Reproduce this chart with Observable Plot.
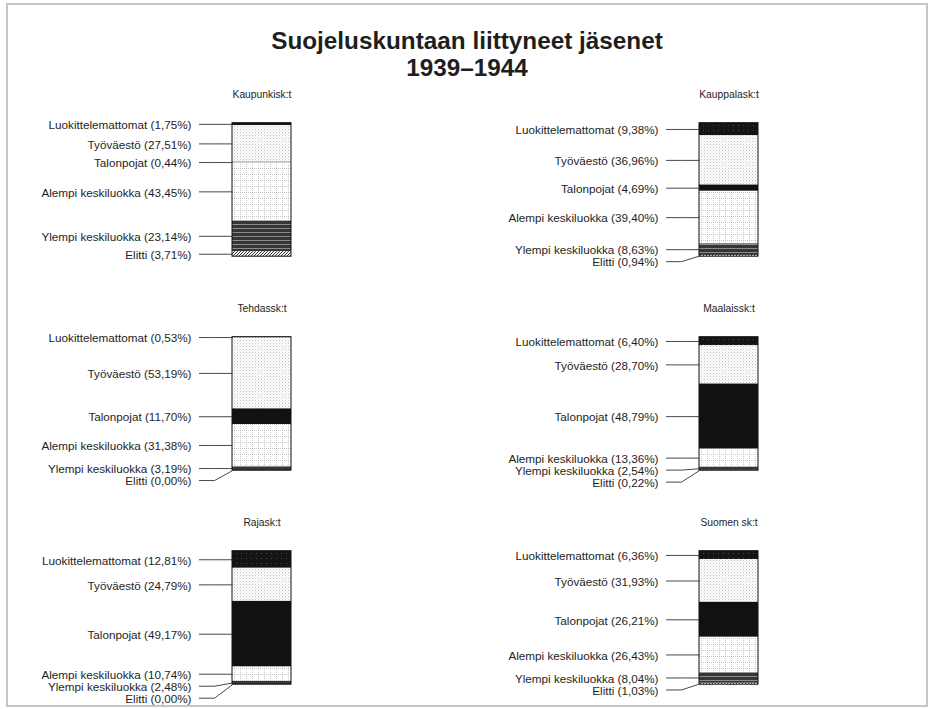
<!DOCTYPE html>
<html>
<head>
<meta charset="utf-8">
<script src="https://cdn.jsdelivr.net/npm/d3@7"></script>
<script src="https://cdn.jsdelivr.net/npm/@observablehq/plot@0.6"></script>
<style>
  html, body { margin: 0; padding: 0; background: #fff; overflow: hidden; }
  body { width: 934px; height: 709px; position: relative; font-family: "Liberation Sans", Arial, sans-serif; }
  #frame { position: absolute; left: 6px; top: 3px; width: 922px; height: 704px; border: 2px solid #c6c6c6; box-sizing: border-box; }
  #title { position: absolute; left: 0; top: 27px; width: 934px; text-align: center; font-weight: bold; font-size: 24.3px; line-height: 27.4px; color: #1e1e1e; }
  #chart { position: absolute; left: 0; top: 84px; }
  #defs { position: absolute; width: 0; height: 0; }
</style>
</head>
<body>
<div id="frame"></div>
<div id="title">Suojeluskuntaan liittyneet jäsenet<br>1939–1944</div>
<svg id="defs" width="0" height="0">
  <defs>
    <pattern id="p-luok" width="5" height="5" patternUnits="userSpaceOnUse">
      <rect width="5" height="5" fill="#141414"/>
      <rect x="1" y="1" width="1" height="1" fill="#444"/>
    </pattern>
    <pattern id="p-tyo" width="3" height="3" patternUnits="userSpaceOnUse">
      <rect width="3" height="3" fill="#fdfdfd"/>
      <rect x="0" y="0" width="1" height="1" fill="#c4c4c4"/>
      <rect x="1.5" y="1.5" width="1" height="1" fill="#dadada"/>
    </pattern>
    <pattern id="p-tal" width="4" height="4" patternUnits="userSpaceOnUse">
      <rect width="4" height="4" fill="#111"/>
    </pattern>
    <pattern id="p-alempi" width="6" height="6" patternUnits="userSpaceOnUse">
      <rect width="6" height="6" fill="#fff"/>
      <rect x="0" y="0" width="1" height="1" fill="#b8b8b8"/>
      <rect x="2" y="0" width="1" height="1" fill="#c8c8c8"/>
      <rect x="4" y="0" width="1" height="1" fill="#c8c8c8"/>
      <rect x="0" y="2" width="1" height="1" fill="#c8c8c8"/>
      <rect x="0" y="4" width="1" height="1" fill="#c8c8c8"/>
    </pattern>
    <pattern id="p-ylempi" width="4" height="4" patternUnits="userSpaceOnUse">
      <rect width="4" height="4" fill="#363636"/>
      <rect x="0" y="0" width="4" height="1" fill="#8c8c8c"/>
    </pattern>
    <pattern id="p-elitti" width="3" height="3" patternUnits="userSpaceOnUse">
      <rect width="3" height="3" fill="#f4f4f4"/>
      <path d="M-1,1 L1,-1 M0,3 L3,0 M2,4 L4,2" stroke="#333" stroke-width="1"/>
    </pattern>
  </defs>
</svg>
<div id="chart"></div>
<script>
// ---- data ----
const panels = ["Kaupunkisk:t", "Kauppalask:t", "Tehdassk:t", "Maalaissk:t", "Rajask:t", "Suomen sk:t"];
const categories = ["Luokittelemattomat", "Työväestö", "Talonpojat", "Alempi keskiluokka", "Ylempi keskiluokka", "Elitti"];
const kaupunkisk = [1.75, 27.51, 0.44, 43.45, 23.14, 3.71];
const kauppalask = [9.38, 36.96, 4.69, 39.40, 8.63, 0.94];
const tehdassk  = [0.53, 53.19, 11.70, 31.38, 3.19, 0.00];
const maalaissk = [6.40, 28.70, 48.79, 13.36, 2.54, 0.22];
const rajask    = [12.81, 24.79, 49.17, 10.74, 2.48, 0.00];
const suomensk  = [6.36, 31.93, 26.21, 26.43, 8.04, 1.03];
const seriesValues = [kaupunkisk, kauppalask, tehdassk, maalaissk, rajask, suomensk];
const patternIds = ["p-luok", "p-tyo", "p-tal", "p-alempi", "p-ylempi", "p-elitti"];

// ---- layout constants ----
const W = 934, H = 625;
const BAND_W = 467, BAND_H = 214;
const BAR_TOP = 38.7, BAR_PX = 133.5;
const BAR_X1 = 232, BAR_X2 = 291;
const LABEL_X = 191, LEAD_X0 = 198.5, BEND_X = 214;
const GAP_PX = 12, TITLE_OFFSET_PX = 28.5;
const gapPct = GAP_PX / BAR_PX * 100;

const fmt = v => v.toFixed(2).replace(".", ",") + "%";

const rows = [];
const panelRows = panels.map((p, i) => ({panel: p, col: i % 2, row: Math.floor(i / 2)}));
panels.forEach((p, i) => {
  let acc = 0, prevLabel = -Infinity;
  seriesValues[i].forEach((v, j) => {
    const y1 = acc, y2 = acc + v;
    const center = (y1 + y2) / 2;
    const labelY = Math.max(center, prevLabel + gapPct);
    prevLabel = labelY;
    rows.push({panel: p, col: i % 2, row: Math.floor(i / 2), category: categories[j], value: v,
               y1, y2, center, labelY, label: `${categories[j]} (${fmt(v)})`});
    acc = y2;
  });
});

const facet = {fx: "col", fy: "row"};
const chart = Plot.plot({
  width: W,
  height: H,
  margin: 0,
  facet: {marginTop: 0, marginRight: 0, marginBottom: 0, marginLeft: 0},
  style: {fontFamily: "'Liberation Sans', Arial, sans-serif", color: "#1e1e1e", background: "transparent", overflow: "visible"},
  fx: {domain: [0, 1], range: [0, W], padding: 0, axis: null},
  fy: {domain: [0, 1, 2], range: [0, BAND_H * 3], padding: 0, axis: null},
  x: {domain: [0, BAND_W], range: [0, BAND_W], axis: null},
  y: {domain: [0, 100], range: [BAR_TOP, BAR_TOP + BAR_PX], axis: null},
  color: {type: "ordinal", domain: categories, range: patternIds.map(id => `url(#${id})`)},
  marks: [
    Plot.rect(rows, {x1: () => BAR_X1, x2: () => BAR_X2, y1: "y1", y2: "y2", fill: "category", ...facet}),
    Plot.rect(panelRows, {x1: () => BAR_X1, x2: () => BAR_X2, y1: () => 0, y2: () => 100, fill: "none", stroke: "#111", strokeWidth: 1, ...facet}),
    Plot.link(rows, {x1: () => LEAD_X0, x2: () => BEND_X, y1: "labelY", y2: "labelY", stroke: "#333", strokeWidth: 0.9, ...facet}),
    Plot.link(rows, {x1: () => BEND_X, x2: () => BAR_X1, y1: "labelY", y2: "center", stroke: "#333", strokeWidth: 0.9, ...facet}),
    Plot.text(rows, {x: () => LABEL_X, y: "labelY", text: "label", textAnchor: "end", lineAnchor: "middle", dy: 1, fontSize: 11.7, fill: "#1e1e1e", ...facet}),
    Plot.text(panelRows, {x: () => (BAR_X1 + BAR_X2) / 2, y: () => -TITLE_OFFSET_PX / BAR_PX * 100, text: "panel", lineAnchor: "middle", fontSize: 10.3, fill: "#1e1e1e", ...facet})
  ]
});
document.getElementById("chart").appendChild(chart);
</script>
</body>
</html>
